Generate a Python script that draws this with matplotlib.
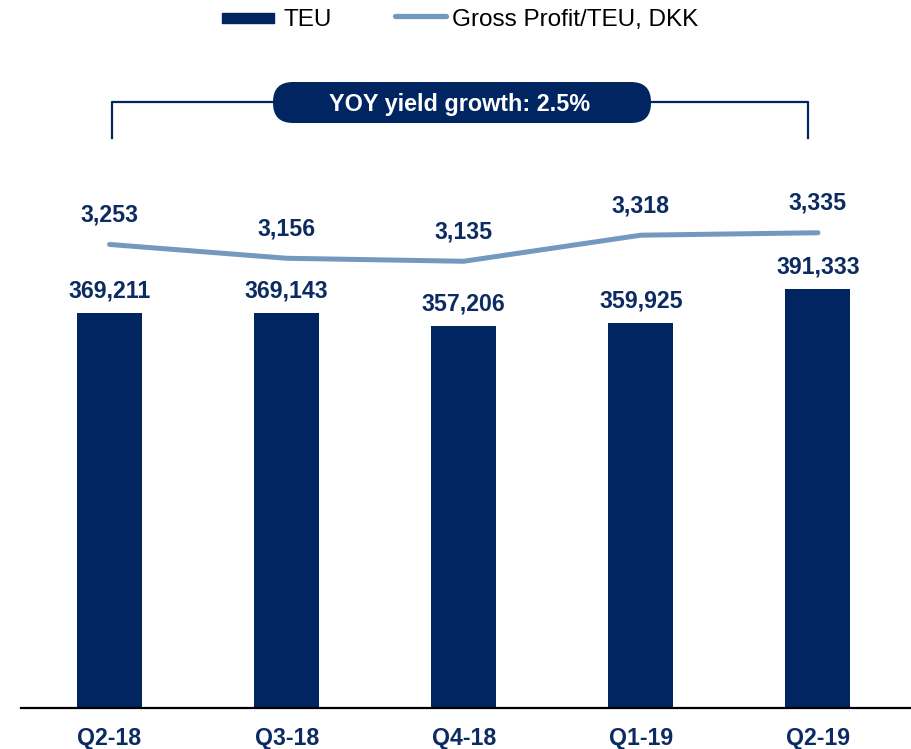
import numpy as np
import matplotlib.pyplot as plt
from matplotlib.patches import FancyBboxPatch, Rectangle

quarters = ["Q2-18", "Q3-18", "Q4-18", "Q1-19", "Q2-19"]
teu = [369211, 369143, 357206, 359925, 391333]
gp_per_teu = [3253, 3156, 3135, 3318, 3335]
teu_labels = ["369,211", "369,143", "357,206", "359,925", "391,333"]
gp_labels = ["3,253", "3,156", "3,135", "3,318", "3,335"]
yoy_text = "YOY yield growth: 2.5%"

navy = "#002561"
text_navy = "#0c2b62"
line_col = "#7499bf"

plt.rcParams['font.family'] = ['Liberation Sans', 'DejaVu Sans']

W, H = 911, 749
fig = plt.figure(figsize=(W / 100, H / 100), dpi=100)

# main axes placed in pixels: left 21, right 911, baseline 708, top 150
ax = fig.add_axes([21 / W, 1 - 708 / H, 890 / W, (708 - 150) / H])
ax2 = ax.twinx()

x = np.arange(len(quarters))
ax.bar(x, teu, width=0.367, color=navy, zorder=2)
ax.set_xlim(-0.5, -0.5 + 890 / 177.1)
ax.set_ylim(0, 558 / 0.0010698)
ax2.set_ylim(0, 558 / 0.1425)
ax2.plot(x, gp_per_teu, color=line_col, lw=3.6, solid_capstyle='round',
         solid_joinstyle='round', zorder=3)

for a in (ax, ax2):
    for s in a.spines.values():
        s.set_visible(False)
    a.set_yticks([])
ax.spines['bottom'].set_visible(True)
ax.spines['bottom'].set_linewidth(1.6)
ax.spines['bottom'].set_color('black')
ax.set_xticks([])

for i in range(len(quarters)):
    ax.annotate(teu_labels[i], (x[i], teu[i]), xytext=(0, 15.6), textcoords='offset pixels',
                ha='center', va='baseline', fontsize=16.7, fontweight='bold', color=text_navy)
    ax2.annotate(gp_labels[i], (x[i], gp_per_teu[i]), xytext=(0, 23), textcoords='offset pixels',
                 ha='center', va='baseline', fontsize=16.7, fontweight='bold', color=text_navy)
    ax.annotate(quarters[i], (x[i], 0), xytext=(0, -36.7), textcoords='offset pixels',
                ha='center', va='baseline', fontsize=16.7, fontweight='bold', color=text_navy,
                annotation_clip=False)

# overlay in pixel units for legend and bracket
ov = fig.add_axes([0, 0, 1, 1], zorder=5)
ov.set_xlim(0, W)
ov.set_ylim(H, 0)
ov.axis('off')

# legend drawn by hand
ov.add_patch(Rectangle((222, 13), 52, 10, color=navy))
ov.text(283, 25.7, "TEU", fontsize=17.5, va='baseline', ha='left', color='black')
ov.plot([395, 446], [15.7, 15.7], color=line_col, lw=3.8, solid_capstyle='round')
ov.text(452, 25.7, "Gross Profit/TEU, DKK", fontsize=17.5, va='baseline', ha='left',
        color='black')

# bracket with label box
ov.plot([112, 112, 808, 808], [138, 101.5, 101.5, 138], color=navy, lw=1.6)
ov.add_patch(FancyBboxPatch((273, 82), 378, 41, boxstyle="round,pad=0,rounding_size=20",
                            facecolor=navy, edgecolor='none'))
ov.text(460, 111.3, yoy_text, fontsize=16.8, fontweight='bold', color='white',
        ha='center', va='baseline')

plt.savefig('out.png', dpi=100)
